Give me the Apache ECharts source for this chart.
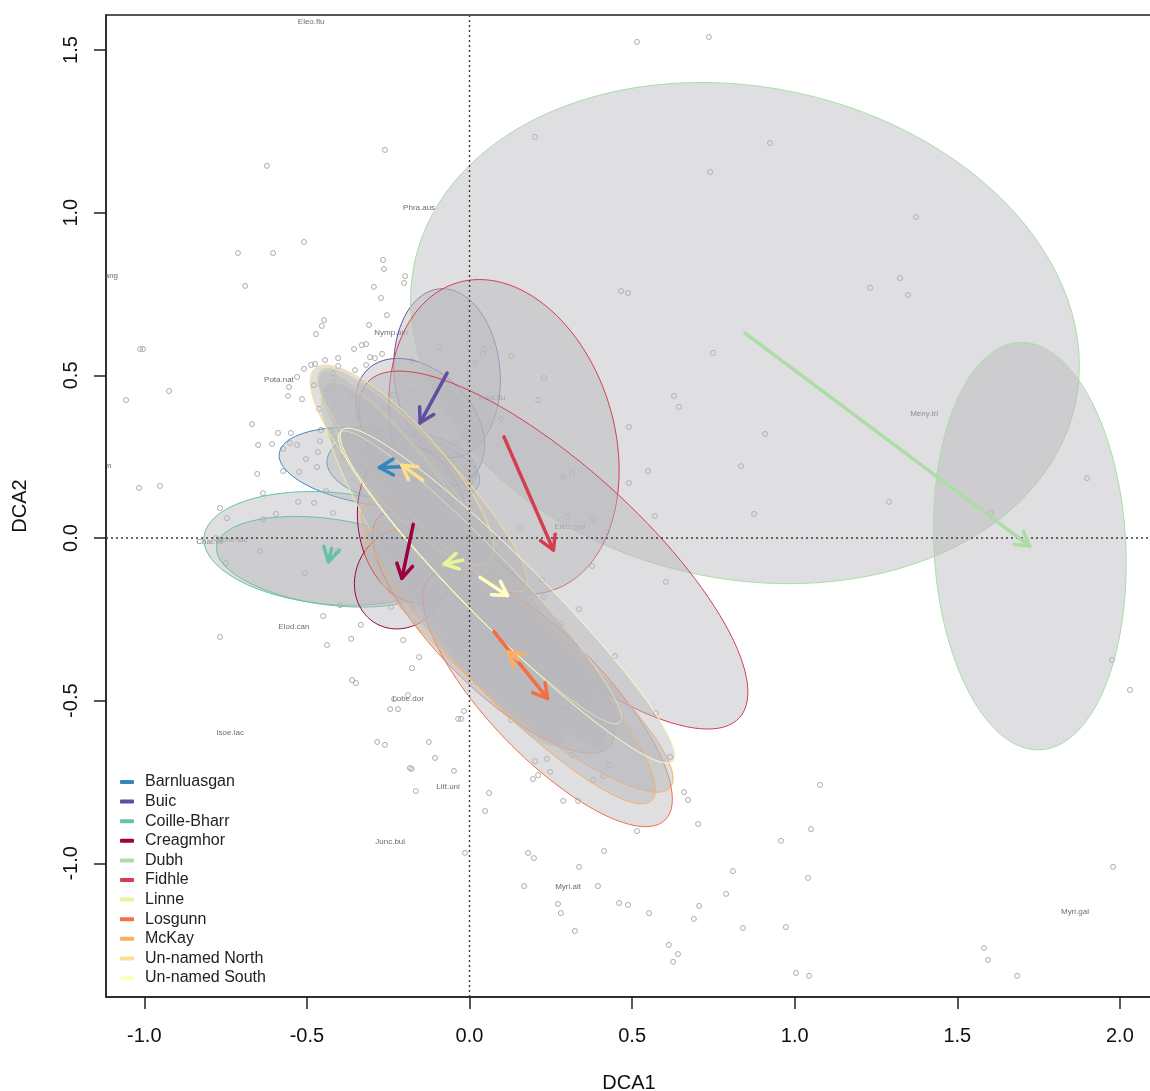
<!DOCTYPE html>
<html>
<head>
<meta charset="utf-8">
<script src="https://cdn.jsdelivr.net/npm/echarts@6/dist/echarts.min.js"></script>
<style>
html, body { margin: 0; padding: 0; background: #fff; }
#chart { width: 1150px; height: 1091px; }
</style>
</head>
<body>
<div id="chart"></div>
<script>
// lakes (groups) and their colours
var groups = ['Barnluasgan', 'Buic', 'Coille-Bharr', 'Creagmhor', 'Dubh', 'Fidhle',
  'Linne', 'Losgunn', 'McKay', 'Un-named North', 'Un-named South'];
var groupColors = ['#3288BD', '#5E4FA2', '#66C2A5', '#9E0142', '#ABDDA4', '#D53E4F',
  '#E6F598', '#F46D43', '#FDAE61', '#FEE08B', '#FFFFBF'];

// group centroids, first survey -> second survey
var startX = [-0.208, -0.069, -0.424, -0.173, 0.847, 0.106, -0.021, 0.075, 0.150, -0.144, 0.032];
var startY = [0.219, 0.507, -0.032, 0.042, 0.630, 0.311, -0.068, -0.288, -0.375, 0.178, -0.121];
var endX = [-0.277, -0.152, -0.434, -0.208, 1.723, 0.258, -0.078, 0.240, 0.119, -0.208, 0.117];
var endY = [0.217, 0.354, -0.073, -0.124, -0.025, -0.037, -0.080, -0.493, -0.350, 0.224, -0.177];

// ellipse shape [semi-axis a, semi-axis b, angle of a in degrees]
var shapeStart = [[0.231, 0.111, -5], [0.26, 0.163, 95], [0.394, 0.172, -5], [0.246, 0.169, 100],
  [1.039, 0.756, -12], [0.495, 0.338, 107], [0.72, 0.11, -53], [0.50, 0.17, -45],
  [0.61, 0.14, -40], [0.46, 0.10, -47], [0.62, 0.09, -46]];
var shapeEnd = [[0.311, 0.117, -8], [0.23, 0.16, 135], [0.347, 0.132, -8], [0.16, 0.141, 60],
  [0.627, 0.295, 93], [0.77, 0.26, -42], [0.66, 0.14, -57], [0.52, 0.18, -46],
  [0.635, 0.14, -46], [0.40, 0.12, -48], [0.72, 0.11, -45]];

// site scores
var sitePoints = [
  [0.515, 1.525], [0.736, 1.540], [-0.260, 1.193], [-0.623, 1.144], [0.201, 1.233], [0.924, 1.214],
  [0.740, 1.125], [1.373, 0.987], [-0.712, 0.876], [-0.604, 0.876], [-0.509, 0.910], [-0.690, 0.775],
  [-0.266, 0.855], [-0.263, 0.827], [-0.198, 0.805], [-0.201, 0.784], [-0.294, 0.772], [-0.272, 0.738],
  [-0.254, 0.685], [-0.309, 0.655], [-0.447, 0.670], [-0.454, 0.652], [-0.472, 0.627], [-0.331, 0.593],
  [-0.318, 0.596], [-0.355, 0.581], [-0.306, 0.556], [-0.291, 0.553], [-0.269, 0.566], [-0.318, 0.532],
  [-0.352, 0.516], [-0.404, 0.553], [-0.404, 0.529], [-0.444, 0.547], [-0.475, 0.535], [-0.487, 0.532],
  [-0.509, 0.520], [-0.530, 0.495], [-0.555, 0.464], [-0.478, 0.470], [-0.558, 0.437], [-0.515, 0.427],
  [-0.463, 0.397], [-0.669, 0.350], [-0.589, 0.323], [-0.549, 0.323], [-0.650, 0.286], [-0.607, 0.289],
  [-0.420, 0.507], [-0.420, 0.480], [-0.420, 0.458], [-0.441, 0.458], [-0.364, 0.437], [-0.337, 0.409],
  [-0.343, 0.372], [-0.414, 0.412], [-0.457, 0.332], [-0.426, 0.329], [-0.094, 0.587], [-0.177, 0.544],
  [0.017, 0.538], [-0.235, 0.440], [-0.260, 0.397], [-0.177, 0.452], [0.045, 0.581], [0.042, 0.566],
  [0.128, 0.559], [0.229, 0.492], [0.211, 0.424], [0.097, 0.366], [-0.045, 0.372], [-0.085, 0.246],
  [-0.125, 0.234], [-0.171, 0.246], [-0.042, 0.295], [0.629, 0.437], [0.644, 0.403], [0.490, 0.341],
  [0.549, 0.206], [0.490, 0.169], [0.570, 0.068], [0.288, 0.188], [0.315, 0.197], [0.155, 0.031],
  [0.300, 0.065], [0.380, 0.058], [0.423, 0.018], [0.377, -0.086], [0.223, -0.129], [0.229, -0.181],
  [0.337, -0.218], [0.281, -0.264], [0.604, -0.135], [-0.241, -0.212], [-0.334, -0.267], [-0.174, -0.215],
  [0.447, -0.363], [-0.204, -0.314], [-0.155, -0.366], [-0.177, -0.400], [0.020, -0.443], [-0.017, -0.532],
  [-0.035, -0.556], [-0.026, -0.556], [-0.125, -0.627], [-0.106, -0.676], [-0.183, -0.707], [-0.178, -0.710],
  [-0.048, -0.716], [-0.165, -0.778], [0.060, -0.784], [0.048, -0.839], [0.128, -0.559], [0.201, -0.686],
  [0.238, -0.679], [0.248, -0.719], [0.195, -0.741], [0.211, -0.729], [0.315, -0.667], [0.380, -0.744],
  [0.411, -0.732], [0.429, -0.698], [0.288, -0.808], [0.334, -0.808], [0.515, -0.901], [0.573, -0.538],
  [0.617, -0.673], [0.660, -0.781], [0.672, -0.805], [0.703, -0.879], [0.454, -0.520], [0.248, -0.569],
  [-0.450, -0.240], [-0.767, -0.304], [-0.438, -0.329], [-0.364, -0.310], [-0.361, -0.437], [-0.349, -0.446],
  [-0.189, -0.483], [-0.232, -0.495], [-0.244, -0.526], [-0.220, -0.526], [-0.284, -0.627], [-0.260, -0.636],
  [-0.014, -0.968], [0.180, -0.968], [0.198, -0.984], [0.337, -1.011], [0.168, -1.070], [0.395, -1.070],
  [1.050, -0.895], [0.958, -0.931], [0.414, -0.962], [0.810, -1.024], [1.041, -1.045], [0.789, -1.094],
  [0.272, -1.125], [0.281, -1.153], [0.460, -1.122], [0.487, -1.128], [0.552, -1.153], [0.706, -1.131],
  [0.690, -1.171], [0.841, -1.199], [0.973, -1.196], [0.324, -1.208], [0.613, -1.251], [0.641, -1.279],
  [0.626, -1.303], [1.004, -1.337], [1.044, -1.346], [1.582, -1.260], [1.594, -1.297], [1.684, -1.346],
  [1.979, -1.011], [1.976, -0.375], [2.031, -0.467], [1.899, 0.184], [0.749, 0.569], [0.909, 0.320],
  [0.835, 0.221], [0.875, 0.074], [1.290, 0.111], [1.604, 0.077], [1.324, 0.799], [1.232, 0.769],
  [1.348, 0.747], [0.466, 0.759], [0.487, 0.753], [-1.013, 0.581], [-1.004, 0.581], [-1.056, 0.424],
  [-0.924, 0.452], [-1.016, 0.154], [-0.952, 0.160], [-0.552, 0.292], [-0.530, 0.286], [-0.573, 0.274],
  [-0.503, 0.243], [-0.466, 0.264], [-0.460, 0.298], [-0.469, 0.218], [-0.524, 0.203], [-0.573, 0.206],
  [-0.653, 0.197], [-0.386, 0.249], [-0.417, 0.304], [-0.635, 0.138], [-0.441, 0.144], [-0.527, 0.111],
  [-0.478, 0.108], [-0.420, 0.077], [-0.595, 0.074], [-0.635, 0.058], [-0.767, 0.092], [-0.746, 0.061],
  [-0.780, 0.000], [-0.644, -0.040], [-0.749, -0.077], [-0.506, -0.108], [-0.407, -0.040], [-0.398, -0.206],
  [1.078, -0.759]
];

// species scores
var speciesNames = ['Eleo.flu', 'Phra.aus', 'Spar.ang', 'Sphagnum', 'Nymp.alb', 'Pota.nat', 'Equi.flu',
  'Eleo.mul', 'Char.vir', 'Sche.lac', 'Elod.can', 'Lobe.dor', 'Isoe.lac', 'Litt.uni', 'Junc.bul',
  'Myri.alt', 'Myri.gal', 'Meny.tri', 'Lyth.sal'];
var speciesX = [-0.487, -0.155, -1.130, -1.161, -0.241, -0.586, 0.069, 0.309, -0.798, -0.730, -0.540,
  -0.189, -0.736, -0.066, -0.244, 0.303, 1.862, 1.398, 0.269];
var speciesY = [1.586, 1.014, 0.805, 0.221, 0.630, 0.486, 0.430, 0.034, -0.012, -0.006, -0.274,
  -0.495, -0.599, -0.765, -0.934, -1.073, -1.150, 0.381, -0.523];

var xTicks = [-1, -0.5, 0, 0.5, 1, 1.5, 2];
var yTicks = [-1, -0.5, 0, 0.5, 1, 1.5];

var FONT = 'Liberation Sans';
var ELLIPSE_FILL = 'rgba(183,185,188,0.45)';

var ellipseData = [];
groups.forEach(function (g, i) {
  ellipseData.push([i, startX[i], startY[i]].concat(shapeStart[i]));
  ellipseData.push([i, endX[i], endY[i]].concat(shapeEnd[i]));
});

function renderEllipse(params, api) {
  var gi = api.value(0), cx = api.value(1), cy = api.value(2);
  var a = api.value(3), b = api.value(4), th = api.value(5) * Math.PI / 180;
  var pts = [];
  for (var k = 0; k < 120; k++) {
    var t = k / 120 * Math.PI * 2;
    var dx = a * Math.cos(t) * Math.cos(th) - b * Math.sin(t) * Math.sin(th);
    var dy = a * Math.cos(t) * Math.sin(th) + b * Math.sin(t) * Math.cos(th);
    pts.push(api.coord([cx + dx, cy + dy]));
  }
  return {
    type: 'polygon',
    shape: { points: pts },
    style: { fill: ELLIPSE_FILL, stroke: groupColors[gi], lineWidth: 1 }
  };
}

function renderArrow(params, api) {
  var p0 = api.coord([api.value(0), api.value(1)]);
  var p1 = api.coord([api.value(2), api.value(3)]);
  var ang = Math.atan2(p1[1] - p0[1], p1[0] - p0[0]);
  var L = 16, h = Math.PI / 6;
  var color = api.visual('color');
  return {
    type: 'group',
    children: [
      { type: 'line', shape: { x1: p0[0], y1: p0[1], x2: p1[0], y2: p1[1] },
        style: { stroke: color, lineWidth: 3.5, lineCap: 'round' } },
      { type: 'polyline', shape: { points: [
          [p1[0] - L * Math.cos(ang - h), p1[1] - L * Math.sin(ang - h)],
          [p1[0], p1[1]],
          [p1[0] - L * Math.cos(ang + h), p1[1] - L * Math.sin(ang + h)]] },
        style: { stroke: color, lineWidth: 3.5, lineCap: 'round', lineJoin: 'round', fill: 'none' } }
    ]
  };
}

var series = [];

series.push({
  type: 'scatter',
  name: 'sites',
  data: sitePoints,
  symbol: 'circle',
  symbolSize: 5,
  itemStyle: { color: 'rgba(0,0,0,0)', borderColor: '#999', borderWidth: 1 },
  silent: true,
  z: 1
});

series.push({
  type: 'custom',
  name: 'species',
  data: speciesX.map(function (x, i) { return [x, speciesY[i]]; }),
  clip: true,
  silent: true,
  z: 1,
  renderItem: function (params, api) {
    var p = api.coord([api.value(0), api.value(1)]);
    return { type: 'text', x: p[0], y: p[1],
      style: { text: speciesNames[params.dataIndex], fill: '#6c6c6c',
        font: '8px "' + FONT + '"', align: 'center', verticalAlign: 'middle' } };
  }
});

series.push({
  type: 'custom',
  name: 'ellipses',
  data: ellipseData,
  encode: { x: 1, y: 2 },
  clip: true,
  silent: true,
  z: 2,
  renderItem: renderEllipse
});

series.push({
  type: 'custom',
  name: 'zero',
  data: [[0, 0]],
  silent: true,
  z: 3,
  renderItem: function (params, api) {
    var o = api.coord([0, 0]);
    var cs = params.coordSys;
    var st = { stroke: '#3a3a3a', lineWidth: 1.4, lineDash: [2, 3] };
    return { type: 'group', children: [
      { type: 'line', shape: { x1: o[0], y1: cs.y, x2: o[0], y2: cs.y + cs.height }, style: st },
      { type: 'line', shape: { x1: cs.x, y1: o[1], x2: cs.x + cs.width, y2: o[1] }, style: st }
    ] };
  }
});

groups.forEach(function (g, i) {
  series.push({
    type: 'custom',
    name: g,
    data: [[startX[i], startY[i], endX[i], endY[i]]],
    itemStyle: { color: groupColors[i] },
    silent: true,
    z: 4,
    renderItem: renderArrow
  });
});

var chart = echarts.init(document.getElementById('chart'));
chart.setOption({
  backgroundColor: '#fff',
  animation: false,
  textStyle: { fontFamily: FONT },
  grid: { left: 106, top: 15, width: 1046, height: 982, show: true,
    outerBoundsMode: 'none', containLabel: false,
    borderColor: '#222', borderWidth: 1.5, backgroundColor: 'rgba(0,0,0,0)' },
  legend: {
    orient: 'vertical', left: 115, top: 769,
    itemWidth: 14, itemHeight: 4, itemGap: 3.6,
    selectedMode: false,
    data: groups.map(function (g, i) {
      return { name: g, icon: 'roundRect', itemStyle: { color: groupColors[i] } };
    }),
    textStyle: { fontSize: 16, lineHeight: 16, color: '#222', fontFamily: FONT, padding: [0, 0, 0, 6] }
  },
  xAxis: {
    type: 'value', min: -1.1178, max: 2.0987,
    splitLine: { show: false },
    axisLine: { show: true, onZero: false, lineStyle: { color: '#222', width: 1.5 } },
    axisTick: { show: true, length: 12, customValues: xTicks, lineStyle: { color: '#222', width: 1.5 } },
    axisLabel: { customValues: xTicks, formatter: function (v) { return v.toFixed(1); },
      fontSize: 20, margin: 29, color: '#111', fontFamily: FONT },
    name: 'DCA1', nameLocation: 'middle', nameGap: 76,
    nameTextStyle: { fontSize: 20, color: '#111', fontFamily: FONT }
  },
  yAxis: {
    type: 'value', min: -1.411, max: 1.6078,
    splitLine: { show: false },
    axisLine: { show: true, onZero: false, lineStyle: { color: '#222', width: 1.5 } },
    axisTick: { show: true, length: 12, customValues: yTicks, lineStyle: { color: '#222', width: 1.5 } },
    axisLabel: { customValues: yTicks, formatter: function (v) { return v.toFixed(1); },
      rotate: 90, fontSize: 20, margin: 25, color: '#111', fontFamily: FONT },
    name: 'DCA2', nameLocation: 'middle', nameGap: 76, nameRotate: 90,
    nameTextStyle: { fontSize: 20, color: '#111', fontFamily: FONT }
  },
  series: series
});
</script>
</body>
</html>
